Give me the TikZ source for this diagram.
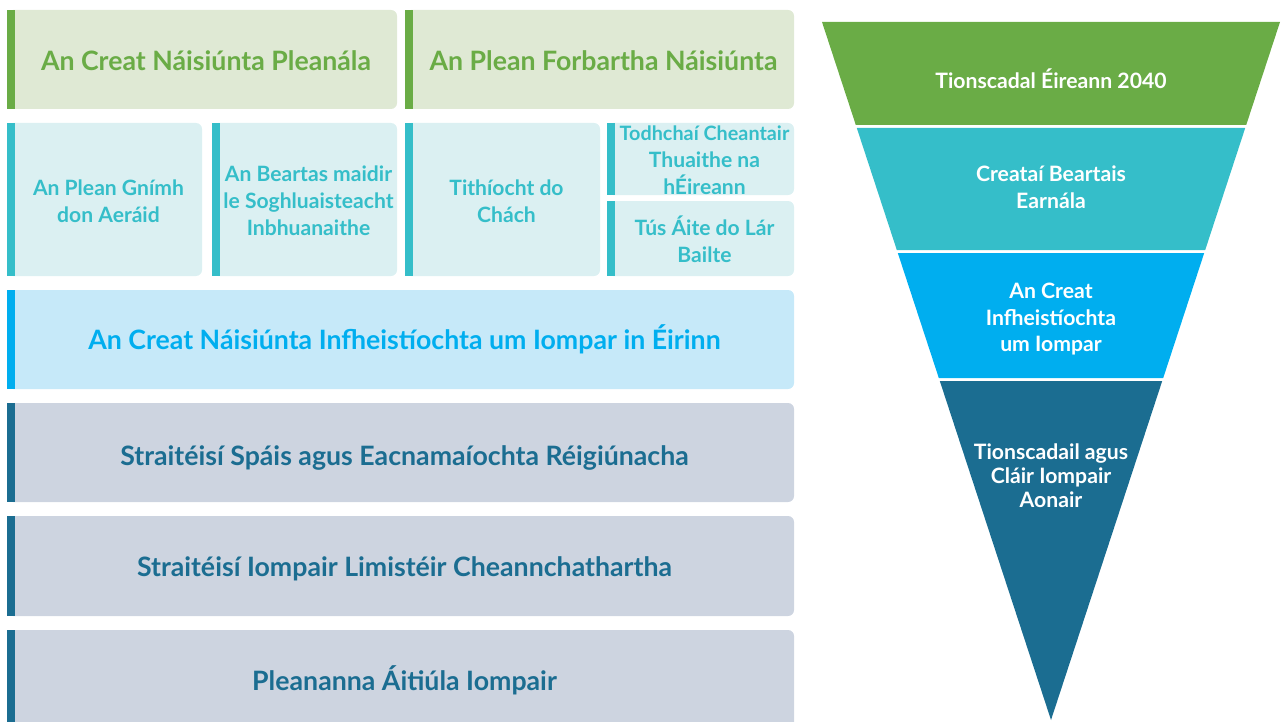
\documentclass[tikz,border=0pt]{standalone}
\usepackage{fontspec}
\setmainfont{Lato}
\definecolor{gbar}{HTML}{6AAC46}
\definecolor{gfill}{HTML}{DFE9D4}
\definecolor{tbar}{HTML}{35BEC9}
\definecolor{tfill}{HTML}{DBF0F2}
\definecolor{bbar}{HTML}{00AEEF}
\definecolor{bfill}{HTML}{C6E9F9}
\definecolor{dbar}{HTML}{1B6D91}
\definecolor{dfill}{HTML}{CDD4E0}
\newcommand\plbox[8]{%
  \fill[#6fill, rounded corners=6pt] (#2,#3) rectangle (#4,#5);
  \fill[#6bar] (#2,#3) rectangle ({#2+8},#5);
  \node[txt, text=#6bar] (#1) at ({(#2+8+#4)/2},{(#3+#5)/2+#7}) {#8};
}
\newcommand\bigf{\fontsize{26.7}{32}\selectfont}
\begin{document}
\begin{tikzpicture}[x=1pt,y=-1pt,
  txt/.style={font=\bfseries\fontsize{21.1}{27}\selectfont, align=center, inner sep=0pt},
  ftxt/.style={font=\bfseries\fontsize{21.2}{26.5}\selectfont, text=white, align=center, inner sep=0pt}]
\useasboundingbox (0,0) rectangle (1281,722);
% top row
\plbox{ncp}{7}{10}{397}{109}{g}{1.5}{\bigf An Creat Náisiúnta Pleanála}
\plbox{npf}{405}{10}{794}{109}{g}{1.5}{\bigf An Plean Forbartha Náisiúnta}
% second row
\plbox{cap}{7}{123}{202}{276}{t}{1.5}{An Plean Gnímh\\don Aeráid}
\plbox{smp}{212}{123}{397}{276}{t}{1}{An Beartas maidir\\le Soghluaisteacht\\Inbhuanaithe}
\plbox{hfa}{405}{123}{600}{276}{t}{1.5}{Tithíocht do\\Chách}
\plbox{rur}{607}{123}{794}{195}{t}{1.5}{\fontsize{19.8}{25.5}\selectfont Todhchaí Cheantair\\Thuaithe na\\hÉireann}
\plbox{tcf}{607}{201}{794}{276}{t}{0.5}{Tús Áite do Lár\\Bailte}
% wide rows
\plbox{nift}{7}{290}{794}{389}{b}{0}{\bigf An Creat Náisiúnta Infheistíochta um Iompar in Éirinn}
\plbox{rses}{7}{403}{794}{502}{d}{5}{\bigf Straitéisí Spáis agus Eacnamaíochta Réigiúnacha}
\plbox{mats}{7}{516}{794}{616}{d}{2.5}{\bigf Straitéisí Iompair Limistéir Cheannchathartha}
\plbox{ltp}{7}{630}{794}{730}{d}{0}{\bigf Pleananna Áitiúla Iompair}
% funnel
\fill[gbar] (822,22) -- (1280,22) -- (1246.2,125) -- (855.8,125) -- cycle;
\fill[tbar] (856.8,128) -- (1245.2,128) -- (1205.2,250) -- (896.8,250) -- cycle;
\fill[bbar] (897.8,253) -- (1204.2,253) -- (1163.2,378) -- (938.8,378) -- cycle;
\fill[dbar] (939.8,381) -- (1162.2,381) -- (1051,720) -- cycle;
\node[ftxt] (f1) at (1051,78.5) {Tionscadal Éireann 2040};
\node[ftxt] (f2) at (1051,187) {Creataí Beartais\\Earnála};
\node[ftxt] (f3) at (1051,319.5) {An Creat\\Infheistíochta\\um Iompar};
\node[ftxt, font=\bfseries\fontsize{21.2}{24}\selectfont] (f4) at (1051,475.5) {Tionscadail agus\\Cláir Iompair\\Aonair};
\end{tikzpicture}
\end{document}
